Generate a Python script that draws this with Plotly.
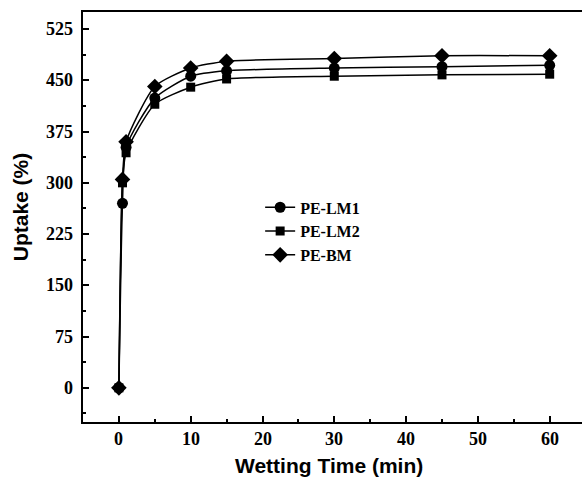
import plotly.graph_objects as go

time_min = [0, 0.5, 1, 5, 10, 15, 30, 45, 60]
pe_lm1 = [0, 270, 352, 424, 456, 464, 468, 470, 472]
pe_lm2 = [0, 300, 344, 415, 440, 452, 456, 458, 459]
pe_bm = [0, 305, 360, 441, 468, 478, 482, 486, 486]

x_major = [0, 10, 20, 30, 40, 50, 60]
x_minor = [-5, 5, 15, 25, 35, 45, 55]
y_major = [0, 75, 150, 225, 300, 375, 450, 525]
y_minor = [-37.5, 37.5, 112.5, 187.5, 262.5, 337.5, 412.5, 487.5]

x_title = "Wetting Time (min)"
y_title = "Uptake (%)"

series = [
    ("PE-LM1", pe_lm1, "circle", 11),
    ("PE-LM2", pe_lm2, "square", 9),
    ("PE-BM", pe_bm, "diamond", 12),
]

fig = go.Figure()
for name, vals, sym, sz in series:
    fig.add_trace(go.Scatter(
        x=time_min, y=vals, name=name, mode="lines+markers",
        line=dict(color="black", width=1.5, shape="spline", smoothing=0.6),
        marker=dict(symbol=sym, size=sz, color="black"),
    ))
# invisible helper trace so the minor-tick overlay axes are drawn
fig.add_trace(go.Scatter(x=time_min[:1], y=pe_lm1[:1], xaxis="x2", yaxis="y2",
                         mode="markers", marker=dict(opacity=0), showlegend=False,
                         hoverinfo="skip"))

tick_font = dict(family="Liberation Serif", size=18, color="black", weight="bold")
sans = dict(family="Liberation Sans", size=21, color="black", weight="bold")
XR = [-5, 64.5]
YR = [-50, 550]

annotations = []
for v in x_major:
    annotations.append(dict(x=v, xref="x", y=-0.042, yref="paper", text=str(v),
                            showarrow=False, xanchor="center", yanchor="middle",
                            font=tick_font))
for v in y_major:
    annotations.append(dict(x=-0.016, xref="paper", y=v, yref="y", text=str(v),
                            showarrow=False, xanchor="right", yanchor="middle",
                            font=tick_font))
annotations.append(dict(x=0.493, xref="paper", y=-0.106, yref="paper", text=x_title,
                        showarrow=False, xanchor="center", yanchor="middle", font=sans))
annotations.append(dict(x=-0.126, xref="paper", y=0.524, yref="paper", text=y_title,
                        showarrow=False, xanchor="center", yanchor="middle",
                        textangle=-90, font=sans))

fig.update_layout(
    width=583, height=477,
    margin=dict(l=83, r=1, t=12, b=55),
    paper_bgcolor="white", plot_bgcolor="white",
    showlegend=True,
    legend=dict(x=0.355, y=0.565, xanchor="left", yanchor="top",
                font=dict(family="Liberation Serif", size=16, color="black", weight="bold"),
                bgcolor="rgba(0,0,0,0)", tracegroupgap=0, itemwidth=30),
    annotations=annotations,
    xaxis=dict(
        range=XR, tickmode="array", tickvals=x_major, showticklabels=False,
        ticks="inside", ticklen=6, tickwidth=1.5, tickcolor="black",
        showline=True, linewidth=2, linecolor="black", mirror=True,
        showgrid=False, zeroline=False,
    ),
    yaxis=dict(
        range=YR, tickmode="array", tickvals=y_major, showticklabels=False,
        ticks="inside", ticklen=6, tickwidth=1.5, tickcolor="black",
        showline=True, linewidth=2, linecolor="black", mirror=False,
        showgrid=False, zeroline=False,
    ),
    xaxis2=dict(
        range=XR, overlaying="x", anchor="y2", side="bottom",
        tickmode="array", tickvals=x_minor, showticklabels=False,
        ticks="inside", ticklen=3, tickwidth=1.5, tickcolor="black",
        showline=False, showgrid=False, zeroline=False,
    ),
    yaxis2=dict(
        range=YR, overlaying="y", anchor="x2", side="left",
        tickmode="array", tickvals=y_minor, showticklabels=False,
        ticks="inside", ticklen=3, tickwidth=1.5, tickcolor="black",
        showline=False, showgrid=False, zeroline=False,
    ),
)

fig.write_html("out.html")
